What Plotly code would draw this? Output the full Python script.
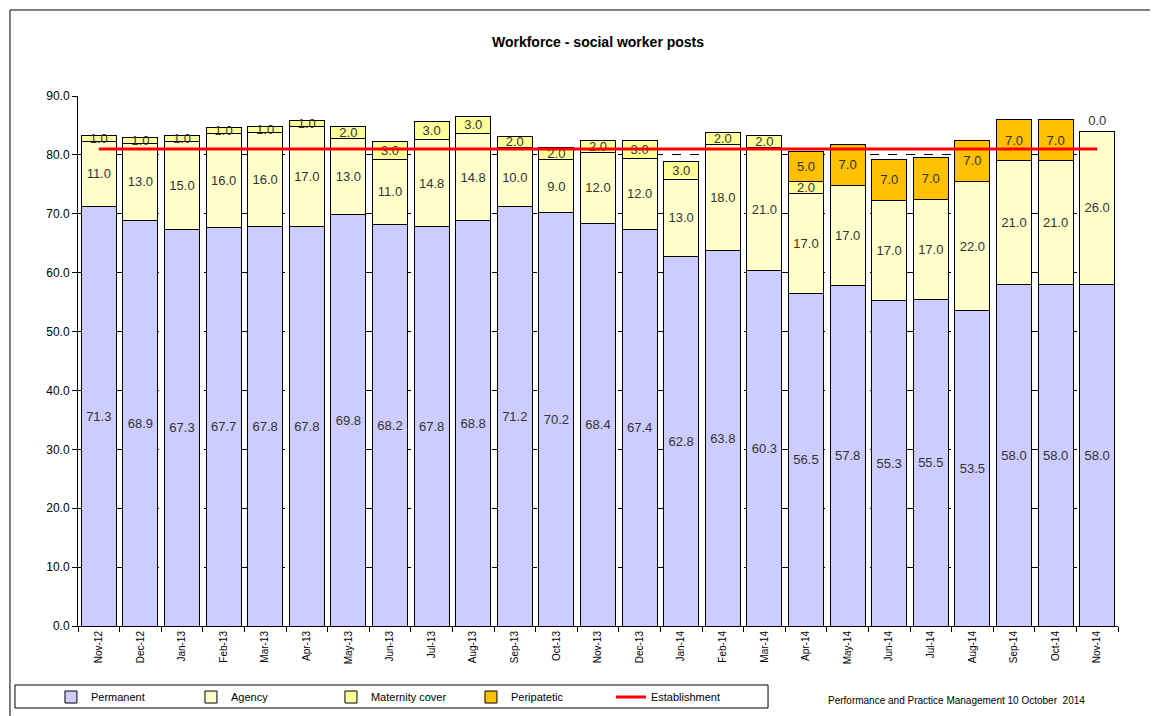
import plotly.graph_objects as go

months = ["Nov-12", "Dec-12", "Jan-13", "Feb-13", "Mar-13", "Apr-13", "May-13", "Jun-13",
          "Jul-13", "Aug-13", "Sep-13", "Oct-13", "Nov-13", "Dec-13", "Jan-14", "Feb-14",
          "Mar-14", "Apr-14", "May-14", "Jun-14", "Jul-14", "Aug-14", "Sep-14", "Oct-14", "Nov-14"]

permanent = [71.3, 68.9, 67.3, 67.7, 67.8, 67.8, 69.8, 68.2, 67.8, 68.8, 71.2, 70.2, 68.4,
             67.4, 62.8, 63.8, 60.3, 56.5, 57.8, 55.3, 55.5, 53.5, 58.0, 58.0, 58.0]
agency = [11.0, 13.0, 15.0, 16.0, 16.0, 17.0, 13.0, 11.0, 14.8, 14.8, 10.0, 9.0, 12.0,
          12.0, 13.0, 18.0, 21.0, 17.0, 17.0, 17.0, 17.0, 22.0, 21.0, 21.0, 26.0]
maternity = [1.0, 1.0, 1.0, 1.0, 1.0, 1.0, 2.0, 3.0, 3.0, 3.0, 2.0, 2.0, 2.0,
             3.0, 3.0, 2.0, 2.0, 2.0, None, None, None, None, None, None, None]
peripatetic = [None] * 17 + [5.0, 7.0, 7.0, 7.0, 7.0, 7.0, 7.0, 0.0]
establishment = [81.0] * 25

FONT = "Liberation Sans, Arial, sans-serif"

fig = go.Figure()

def bar(name, vals, color, positions="inside"):
    fig.add_trace(go.Bar(
        name=name, x=months, y=vals,
        marker=dict(color=color, line=dict(color="#000000", width=1)),
        texttemplate="%{y:.1f}", textposition=positions, insidetextanchor="middle",
        constraintext="none", cliponaxis=False,
        textfont=dict(family=FONT, size=13, color="#333333"),
        outsidetextfont=dict(family=FONT, size=13, color="#333333"),
    ))

bar("Permanent", permanent, "#CCCCFF")
bar("Agency", agency, "#FFFFCC")
bar("Maternity cover", maternity, "#FFFF99")
bar("Peripatetic", peripatetic, "#FFC000",
    ["inside" if (v or 0) > 0 else "outside" for v in peripatetic])

fig.add_trace(go.Scatter(
    name="Establishment", x=months, y=establishment, mode="lines",
    line=dict(color="#FF0000", width=3),
))

fig.update_layout(
    width=1158, height=716,
    barmode="stack", bargap=0.16,
    paper_bgcolor="white", plot_bgcolor="white",
    font=dict(family=FONT, size=12, color="#000000"),
    margin=dict(l=70, r=48, t=88, b=98, autoexpand=False),
    title=dict(text="<b>Workforce - social worker posts</b>", x=0.5, xref="paper",
               y=1 - 34 / 716, yanchor="middle",
               font=dict(family=FONT, size=14, color="#000000")),
    showlegend=True,
    legend=dict(orientation="h", x=-0.026, xanchor="left", y=-0.134, yanchor="middle",
                borderwidth=0, bgcolor="rgba(0,0,0,0)",
                font=dict(family=FONT, size=11, color="#000000"),
                entrywidth=95, entrywidthmode="pixels", traceorder="normal",
                itemwidth=30),
    xaxis=dict(type="category", showline=True, linecolor="#000000", linewidth=1,
               mirror=False, ticks="outside", tickson="boundaries", ticklen=5,
               tickcolor="#000000", tickangle=-90, automargin=False,
               tickfont=dict(family=FONT, size=10, color="#000000"), showgrid=False),
    yaxis=dict(range=[0, 90], dtick=10, tickformat=".1f", showline=True,
               linecolor="#000000", linewidth=1, ticks="outside", ticklen=5,
               tickcolor="#000000", tickfont=dict(family=FONT, size=12, color="#000000"),
               showgrid=True, gridcolor="#000000", gridwidth=1, griddash="dash",
               zeroline=False, automargin=False),
    shapes=[
        dict(type="rect", xref="paper", yref="paper", x0=-0.0654, y0=-0.4,
             x1=1.2, y1=1.1623, line=dict(color="#000000", width=1),
             fillcolor="rgba(0,0,0,0)", layer="below"),
        dict(type="rect", xref="paper", yref="paper", x0=-0.0606, y0=-0.1547,
             x1=0.6635, y1=-0.1113, line=dict(color="#000000", width=1),
             fillcolor="rgba(0,0,0,0)", layer="below"),
    ],
    annotations=[dict(text="Performance and Practice Management 10 October  2014",
                      xref="paper", yref="paper", x=(826 - 78) / 1040, y=(626 - 700) / 530,
                      xanchor="left", yanchor="middle", showarrow=False,
                      font=dict(family=FONT, size=10, color="#000000"))],
)

fig.write_html("out.html")
